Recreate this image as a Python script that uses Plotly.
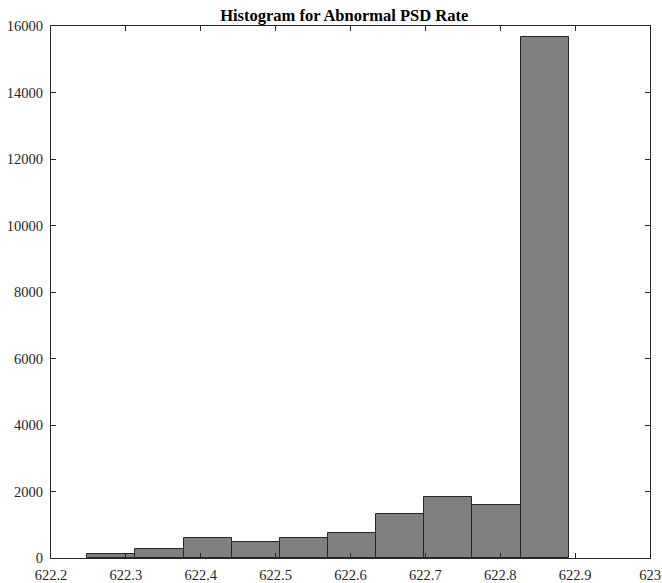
import plotly.graph_objects as go

bin_start = 622.2485
bin_width = 0.0643
counts = [120, 270, 600, 490, 600, 740, 1330, 1835, 1580, 15660]
x_ticks = [622.2, 622.3, 622.4, 622.5, 622.6, 622.7, 622.8, 622.9, 623.0]
x_tick_labels = ["622.2", "622.3", "622.4", "622.5", "622.6", "622.7", "622.8", "622.9", "623"]
y_ticks = [0, 2000, 4000, 6000, 8000, 10000, 12000, 14000, 16000]
y_tick_labels = ["0", "2000", "4000", "6000", "8000", "10000", "12000", "14000", "16000"]

centers = [bin_start + bin_width * (i + 0.5) for i in range(len(counts))]

fig = go.Figure(go.Bar(
    x=centers, y=counts, width=[bin_width] * len(counts),
    marker=dict(color="#808080", line=dict(color="#262626", width=1)),
))

font = dict(family="Liberation Serif, Times New Roman, serif", size=14.5, color="#262626")
axis_common = dict(
    showgrid=False, zeroline=False, showline=True, linecolor="#262626", linewidth=1,
    mirror="ticks", ticks="inside", ticklen=5, tickcolor="#262626", tickfont=font,
    automargin=False,
)
fig.update_layout(
    width=662, height=583,
    margin=dict(l=51, r=12, t=26, b=25),
    paper_bgcolor="white", plot_bgcolor="white",
    title=dict(text="<b>Histogram for Abnormal PSD Rate</b>", x=0.52, xanchor="center",
               y=0.974, yanchor="middle", automargin=False,
               font=dict(family="Liberation Serif, Times New Roman, serif", size=16.5, color="black")),
    showlegend=False,
    bargap=0,
    xaxis=dict(range=[622.2, 623.0], tickvals=x_ticks, ticktext=x_tick_labels, ticklabelstandoff=4, **axis_common),
    yaxis=dict(range=[0, 16000], tickvals=y_ticks, ticktext=y_tick_labels, ticklabelstandoff=4, **axis_common),
)
fig.write_html("out.html", config={"displayModeBar": False},
               post_script="document.body.style.margin='0';document.body.style.overflow='hidden';")
